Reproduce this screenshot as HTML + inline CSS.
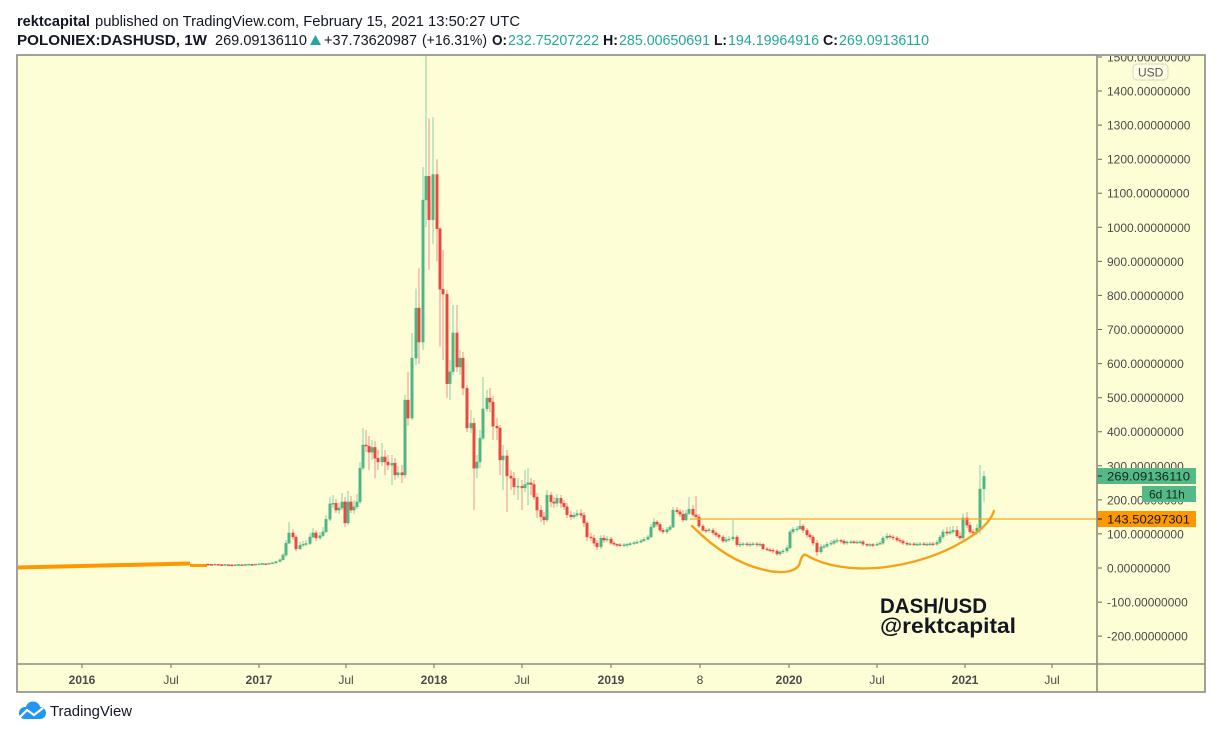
<!DOCTYPE html>
<html><head><meta charset="utf-8">
<style>
html,body{margin:0;padding:0;background:#fff;}
svg{display:block;font-family:"Liberation Sans","DejaVu Sans",sans-serif;}
</style></head>
<body>
<svg width="1220" height="740" viewBox="0 0 1220 740" xmlns="http://www.w3.org/2000/svg">
<defs>
<clipPath id="pc"><rect x="18" y="56" width="1078" height="607"/></clipPath>
<clipPath id="ac"><rect x="1098" y="56" width="106" height="607"/></clipPath>
</defs>
<rect width="1220" height="740" fill="#fff"/>

<!-- header -->
<text x="17" y="26" font-size="15" font-weight="bold" fill="#131722" textLength="73" lengthAdjust="spacingAndGlyphs">rektcapital</text>
<text x="95" y="26" font-size="15" fill="#131722" textLength="425" lengthAdjust="spacingAndGlyphs">published on TradingView.com, February 15, 2021 13:50:27 UTC</text>

<text x="17" y="45" font-size="15" font-weight="bold" fill="#131722" textLength="190" lengthAdjust="spacingAndGlyphs">POLONIEX:DASHUSD, 1W</text>
<text x="215" y="45" font-size="15" fill="#131722" textLength="92" lengthAdjust="spacingAndGlyphs">269.09136110</text>
<polygon points="310,45 321,45 315.5,35" fill="#26a69a"/>
<text x="324" y="45" font-size="15" fill="#131722" textLength="93" lengthAdjust="spacingAndGlyphs">+37.73620987</text>
<text x="422" y="45" font-size="15" fill="#131722" textLength="65" lengthAdjust="spacingAndGlyphs">(+16.31%)</text>
<text x="492" y="45" font-size="15" font-weight="bold" fill="#131722" textLength="15" lengthAdjust="spacingAndGlyphs">O:</text>
<text x="508" y="45" font-size="15" fill="#26a69a" textLength="91" lengthAdjust="spacingAndGlyphs">232.75207222</text>
<text x="603" y="45" font-size="15" font-weight="bold" fill="#131722" textLength="15" lengthAdjust="spacingAndGlyphs">H:</text>
<text x="619" y="45" font-size="15" fill="#26a69a" textLength="91" lengthAdjust="spacingAndGlyphs">285.00650691</text>
<text x="714" y="45" font-size="15" font-weight="bold" fill="#131722" textLength="13" lengthAdjust="spacingAndGlyphs">L:</text>
<text x="728" y="45" font-size="15" fill="#26a69a" textLength="91" lengthAdjust="spacingAndGlyphs">194.19964916</text>
<text x="823" y="45" font-size="15" font-weight="bold" fill="#131722" textLength="15" lengthAdjust="spacingAndGlyphs">C:</text>
<text x="839" y="45" font-size="15" fill="#26a69a" textLength="90" lengthAdjust="spacingAndGlyphs">269.09136110</text>

<!-- chart background -->
<rect x="17" y="55" width="1188" height="637" fill="#fefed6"/>

<g clip-path="url(#pc)">
<polyline points="17,567.5 190,563.5" fill="none" stroke="#ff9800" stroke-width="4"/>
<polyline points="190,565.5 207,565.5" fill="none" stroke="#ff9800" stroke-width="3"/>

<!-- wicks -->
<path fill="none" stroke="#8ccfae" stroke-width="1" d="M280 558.5V562.5M283 553V560.5M286 540V557M289 522V544M300 542V550M303 541V547M306 540V546M310 533V545M313 528V538M320 532V540M323 527V537M326 515V533M330 497V521M333 495V508M339 503V514M342 493V510M348 491V525M354 500V514M357 494V509M360 462V504M363 428V470M372 440V460M382 443V466M392 455V485M398 466V478M405 395V478M412 333V420M416 288.6V365M423 167V350M426 56V227.3M433 117.3V244.3M450 360V400M453 305V375M460 350V375M471 410V433M477 455V478M480 430V468M483 377V440M487 390V412M503 445V490M518 478V500M525 470V492M528 468V505M547 490V522M557 494V507M574 512V519M577 510V517M601 535V549M607 536V542M624 543V547M627 543V547M630 542V546M634 541V545M637 540V544M641 539V543M644 537V542M648 535V540M651 524V538M654 518V528M667 527V534M670 525V531M673 507V528M686 510V521M689 497V515M709 528V533M726 537V543M729 536V542M733 520V541M740 542V547M743 542V546M750 542V547M753 542V546M760 542V547M780 550V556M783 549V554M787 545V553M790 530V549M793 527V534M797 526V532M800 520V530M821 544V554M824 544V549M827 542V548M831 540V546M834 539V545M837 538V543M847 540V545M851 540V544M857 540V544M860 540V544M870 543V547M877 542V546M880 541V545M883 536V545M887 533V540M910 542V546M917 542V546M920 542V546M927 542V546M930 542V546M937 540V546M940 535V544M943 529V539M950 527V535M953 526V534M963 513.5V540M977 524V535M980 465.1V534M984 470.9V501.9"/>
<path fill="none" stroke="#ef9393" stroke-width="1" d="M293 529V540M296 535V551M316 530V541M336 499V513M345 497V527M351 496V513M366 430V452M369 436V470M375 441V478M378 450V470M385 450V475M388 455V470M395 458V480M402 465V483M408 372V426M419 268.2V363.6M429 118.3V269.9M437 159.2V261.4M440 227.3V346.5M443 250V360M447 290V397.7M457 305V372M463 352V395M467 385V432M474 418V510M490 388V412M493 396V440M497 418V440M500 425V475M507 450V512M511 470V490M514 472V495M522 480V510M531 478V495M534 480V500M537 493V518M541 505V522M544 512V525M551 492V507M554 497V508M561 495V508M564 500V510M567 503V518M571 511V520M581 509V518M584 512V527M587 521V541M591 533V541M594 535V546M597 540V550M604 535V543M611 537V545M614 541V546M617 543V547M620 543V547M657 520V527M660 522V532M663 528V534M677 507V514M680 509V517M683 510V522M693 505V517M696 496V518M699 514V528M703 524V532M706 528V533M713 528V535M716 531V537M719 533V539M723 535V543M737 535V547M747 542V547M757 542V547M763 543V550M767 547V551M770 548V552M773 548V553M777 549V556M803 524V533M807 528V538M810 533V540M813 535V546M817 540V556M841 539V543M844 539V545M854 540V544M863 540V546M867 543V547M873 543V547M890 534V539M893 535V540M897 536V542M900 538V543M903 539V545M907 541V546M914 542V546M924 542V546M933 542V546M947 527V536M957 526V538M960 532V540M967 512V528M970 522V534M973 529V535"/>

<!-- green bodies -->
<path fill="#4db684" stroke="#4db684" stroke-width="0.4" d="M213.5 564h2.6v1.2h-2.6zM223.7 564.3h2.6v1.2h-2.6zM233.9 564.6h2.6v1.2h-2.6zM237.3 564.4h2.6v1.2h-2.6zM244.1 564.3h2.6v1.2h-2.6zM247.5 564.1h2.6v1.2h-2.6zM254.3 564h2.6v1.2h-2.6zM257.7 563.7h2.6v1.2h-2.6zM261.1 563.4h2.6v1.2h-2.6zM267.9 563.1h2.6v1.2h-2.6zM271.3 562.6h2.6v1.2h-2.6zM274.7 561.5h2.6v1.6h-2.6z
M278.7 559.8h2.6V561.5h-2.6zM281.7 555.1h2.6V559.8h-2.6zM284.7 543.1h2.6V555.1h-2.6zM287.7 532.9h2.6V543.1h-2.6zM298.7 545.2h2.6V548.9h-2.6zM301.7 544.2h2.6V545.2h-2.6zM304.7 543.5h2.6V544.5h-2.6zM308.7 537h2.6V543.5h-2.6zM311.7 532.9h2.6V537h-2.6zM318.7 535.6h2.6V538h-2.6zM321.7 531.9h2.6V535.6h-2.6zM324.7 519.3h2.6V531.9h-2.6zM328.7 503.9h2.6V519.3h-2.6zM331.7 503.3h2.6V504.3h-2.6zM337.7 508h2.6V510.1h-2.6zM340.7 501.9h2.6V508h-2.6zM346.7 501.9h2.6V523h-2.6zM352.7 506.7h2.6V510.1h-2.6zM355.7 501.9h2.6V506.7h-2.6zM358.7 468.2h2.6V501.9h-2.6zM361.7 445h2.6V468.2h-2.6zM370.7 447.4h2.6V452.2h-2.6zM380.7 456.9h2.6V462h-2.6zM390.7 463.1h2.6V465.1h-2.6zM396.7 472.6h2.6V475h-2.6zM403.7 400h2.6V475h-2.6zM410.7 358.1h2.6V418.1h-2.6zM414.7 308h2.6V358.1h-2.6zM421.7 200h2.6V342.1h-2.6zM424.7 176.2h2.6V200h-2.6zM431.7 174.5h2.6V219.8h-2.6zM448.7 371.8h2.6V383.7h-2.6zM451.7 332.9h2.6V371.8h-2.6zM458.7 358.1h2.6V367h-2.6zM469.7 423.2h2.6V428h-2.6zM475.7 462h2.6V468.2h-2.6zM478.7 438.2h2.6V462h-2.6zM481.7 408.9h2.6V438.2h-2.6zM485.7 398h2.6V408.9h-2.6zM501.7 455.9h2.6V460h-2.6zM516.7 486.2h2.6V487.2h-2.6zM523.7 484.5h2.6V487.9h-2.6zM526.7 482.8h2.6V484.5h-2.6zM545.7 495.1h2.6V520h-2.6zM555.7 498.2h2.6V503.3h-2.6zM572.7 515.2h2.6V516.9h-2.6zM575.7 513.5h2.6V515.2h-2.6zM599.7 538h2.6V546.9h-2.6zM605.7 539h2.6V540.1h-2.6zM622.7 544.8h2.6V545.8h-2.6zM625.7 544.3h2.6V545.3h-2.6zM628.7 543.5h2.6V544.8h-2.6zM632.7 542.8h2.6V543.8h-2.6zM635.7 542.1h2.6V543.1h-2.6zM639.7 540.7h2.6V542.1h-2.6zM642.7 539.4h2.6V540.7h-2.6zM646.7 537h2.6V539.4h-2.6zM649.7 527.1h2.6V537h-2.6zM652.7 522h2.6V527.1h-2.6zM665.7 529.5h2.6V531.9h-2.6zM668.7 527.1h2.6V529.5h-2.6zM671.7 510.1h2.6V527.1h-2.6zM684.7 513.5h2.6V520h-2.6zM687.7 509.1h2.6V513.5h-2.6zM707.7 529.7h2.6V530.7h-2.6zM724.7 539.7h2.6V541.1h-2.6zM727.7 539h2.6V540h-2.6zM731.7 537h2.6V539h-2.6zM738.7 544.2h2.6V545.2h-2.6zM741.7 543.8h2.6V544.8h-2.6zM748.7 544.2h2.6V545.2h-2.6zM751.7 543.8h2.6V544.8h-2.6zM758.7 544.2h2.6V545.2h-2.6zM778.7 552h2.6V554h-2.6zM781.7 551h2.6V552h-2.6zM785.7 547.9h2.6V551h-2.6zM788.7 531.9h2.6V547.9h-2.6zM791.7 529.2h2.6V531.9h-2.6zM795.7 528.8h2.6V529.8h-2.6zM798.7 526.1h2.6V528.8h-2.6zM819.7 546.9h2.6V552h-2.6zM822.7 546.2h2.6V547.2h-2.6zM825.7 544.2h2.6V546.2h-2.6zM829.7 543.1h2.6V544.2h-2.6zM832.7 541.1h2.6V543.1h-2.6zM835.7 540.4h2.6V541.4h-2.6zM845.7 542.1h2.6V543.1h-2.6zM849.7 541.8h2.6V542.8h-2.6zM855.7 542.1h2.6V543.1h-2.6zM858.7 541.8h2.6V542.8h-2.6zM868.7 544.5h2.6V545.5h-2.6zM875.7 544.2h2.6V545.2h-2.6zM878.7 543.1h2.6V544.2h-2.6zM881.7 538h2.6V543.1h-2.6zM885.7 536h2.6V538h-2.6zM908.7 543.8h2.6V544.8h-2.6zM915.7 544.2h2.6V545.2h-2.6zM918.7 543.8h2.6V544.8h-2.6zM925.7 544.2h2.6V545.2h-2.6zM928.7 543.8h2.6V544.8h-2.6zM935.7 542.4h2.6V544.2h-2.6zM938.7 537h2.6V542.4h-2.6zM941.7 531.9h2.6V537h-2.6zM948.7 531.9h2.6V533.2h-2.6zM951.7 530.2h2.6V531.9h-2.6zM961.7 517.9h2.6V538h-2.6zM975.7 528.1h2.6V532.6h-2.6zM978.7 489h2.6V528.1h-2.6zM982.7 476.4h2.6V489h-2.6z"/>

<!-- red bodies -->
<path fill="#e8483f" stroke="#e8483f" stroke-width="0.4" d="M206.7 564h2.6v1.2h-2.6zM210.1 564.3h2.6v1.2h-2.6zM216.9 564.2h2.6v1.2h-2.6zM220.3 564.5h2.6v1.2h-2.6zM227.1 564.6h2.6v1.2h-2.6zM230.5 564.8h2.6v1.2h-2.6zM240.7 564.6h2.6v1.2h-2.6zM250.9 564.3h2.6v1.2h-2.6zM264.5 563.6h2.6v1.2h-2.6z
M291.7 532.9h2.6V537h-2.6zM294.7 537h2.6V548.9h-2.6zM314.7 532.9h2.6V538h-2.6zM334.7 503.3h2.6V510.1h-2.6zM343.7 501.9h2.6V523h-2.6zM349.7 501.9h2.6V510.1h-2.6zM364.7 445h2.6V446h-2.6zM367.7 446h2.6V452.2h-2.6zM373.7 447.4h2.6V458.3h-2.6zM376.7 458.3h2.6V462h-2.6zM383.7 456.9h2.6V462h-2.6zM386.7 462h2.6V465.1h-2.6zM393.7 463.1h2.6V475h-2.6zM400.7 472.6h2.6V475h-2.6zM406.7 400h2.6V418.1h-2.6zM417.7 308h2.6V342.1h-2.6zM427.7 176.2h2.6V219.8h-2.6zM435.7 174.5h2.6V228.7h-2.6zM438.7 228.7h2.6V289.3h-2.6zM441.7 289.3h2.6V294.1h-2.6zM445.7 294.1h2.6V383.7h-2.6zM455.7 332.9h2.6V367h-2.6zM461.7 358.1h2.6V388.1h-2.6zM465.7 388.1h2.6V428h-2.6zM472.7 423.2h2.6V468.2h-2.6zM488.7 398h2.6V402.1h-2.6zM491.7 402.1h2.6V426.3h-2.6zM495.7 426.3h2.6V428h-2.6zM498.7 428h2.6V460h-2.6zM505.7 455.9h2.6V476h-2.6zM509.7 476h2.6V478.1h-2.6zM512.7 478.1h2.6V486.9h-2.6zM520.7 486.2h2.6V487.9h-2.6zM529.7 482.8h2.6V484.5h-2.6zM532.7 484.5h2.6V497.1h-2.6zM535.7 497.1h2.6V510.1h-2.6zM539.7 510.1h2.6V516.9h-2.6zM542.7 516.9h2.6V520h-2.6zM549.7 495.1h2.6V501.9h-2.6zM552.7 501.9h2.6V503.3h-2.6zM559.7 498.2h2.6V503.3h-2.6zM562.7 503.3h2.6V506.7h-2.6zM565.7 506.7h2.6V514.9h-2.6zM569.7 514.9h2.6V516.9h-2.6zM579.7 513.5h2.6V515.2h-2.6zM582.7 515.2h2.6V523h-2.6zM585.7 523h2.6V537h-2.6zM589.7 537h2.6V538h-2.6zM592.7 538h2.6V543.1h-2.6zM595.7 543.1h2.6V546.9h-2.6zM602.7 538h2.6V540.1h-2.6zM609.7 539h2.6V543.1h-2.6zM612.7 543.1h2.6V544.2h-2.6zM615.7 544.2h2.6V545.2h-2.6zM618.7 544.8h2.6V545.8h-2.6zM655.7 522h2.6V524.4h-2.6zM658.7 524.4h2.6V530.2h-2.6zM661.7 530.2h2.6V531.9h-2.6zM675.7 510.1h2.6V511.8h-2.6zM678.7 511.8h2.6V514.2h-2.6zM681.7 514.2h2.6V520h-2.6zM691.7 509.1h2.6V514.9h-2.6zM694.7 514.9h2.6V516.9h-2.6zM697.7 516.9h2.6V526.1h-2.6zM701.7 526.1h2.6V530.2h-2.6zM704.7 530.2h2.6V531.2h-2.6zM711.7 530.2h2.6V532.9h-2.6zM714.7 532.9h2.6V535h-2.6zM717.7 535h2.6V537h-2.6zM721.7 537h2.6V541.1h-2.6zM735.7 537h2.6V544.8h-2.6zM745.7 543.8h2.6V544.8h-2.6zM755.7 543.8h2.6V544.8h-2.6zM761.7 544.2h2.6V548.9h-2.6zM765.7 548.9h2.6V549.9h-2.6zM768.7 549.9h2.6V550.9h-2.6zM771.7 550.3h2.6V551.3h-2.6zM775.7 551h2.6V554h-2.6zM801.7 526.1h2.6V530.2h-2.6zM805.7 530.2h2.6V535h-2.6zM808.7 535h2.6V537h-2.6zM811.7 537h2.6V543.1h-2.6zM815.7 543.1h2.6V552h-2.6zM839.7 540.4h2.6V541.4h-2.6zM842.7 541.1h2.6V543.1h-2.6zM852.7 541.8h2.6V542.8h-2.6zM861.7 541.8h2.6V544.2h-2.6zM865.7 544.2h2.6V545.2h-2.6zM871.7 544.5h2.6V545.5h-2.6zM888.7 536h2.6V537h-2.6zM891.7 537h2.6V538h-2.6zM895.7 538h2.6V540.1h-2.6zM898.7 540.1h2.6V541.1h-2.6zM901.7 541.1h2.6V543.1h-2.6zM905.7 543.1h2.6V544.2h-2.6zM912.7 543.8h2.6V544.8h-2.6zM922.7 543.8h2.6V544.8h-2.6zM931.7 543.8h2.6V544.8h-2.6zM945.7 531.9h2.6V533.2h-2.6zM955.7 530.2h2.6V536h-2.6zM958.7 536h2.6V538h-2.6zM965.7 517.9h2.6V525.1h-2.6zM968.7 525.1h2.6V531.9h-2.6zM971.7 531.9h2.6V532.9h-2.6z"/>

<line x1="690" y1="519" x2="1097" y2="519" stroke="#f5a623" stroke-width="1.3"/>
<path d="M692 526 C712 546 738 566 772 571.5 C788 573.5 797 570 799.5 564 C801 558 803 553.5 806 555 C814 559.5 828 567 858 568.3 C895 569.5 935 558 962 542 C978 533 990 523 994 511" fill="none" stroke="#f5a21b" stroke-width="2.4" stroke-linecap="round"/>
</g>

<text x="880" y="613" font-size="21" font-weight="bold" fill="#131722" textLength="107" lengthAdjust="spacingAndGlyphs">DASH/USD</text>
<text x="880" y="633" font-size="21" font-weight="bold" fill="#131722" textLength="136" lengthAdjust="spacingAndGlyphs">@rektcapital</text>

<!-- price axis -->
<g clip-path="url(#ac)">
<path fill="none" stroke="#666" stroke-width="1" d="M1097 57H1102M1097 91H1102M1097 125.1H1102M1097 159.2H1102M1097 193.2H1102M1097 227.3H1102M1097 261.4H1102M1097 295.4H1102M1097 329.5H1102M1097 363.6H1102M1097 397.7H1102M1097 431.7H1102M1097 465.8H1102M1097 499.9H1102M1097 533.9H1102M1097 568H1102M1097 602.1H1102M1097 636.1H1102"/>
<g font-size="12" fill="#4a4a4a">
<text x="1107" y="61.5">1500.00000000</text>
<text x="1107" y="95.5">1400.00000000</text>
<text x="1107" y="129.6">1300.00000000</text>
<text x="1107" y="163.7">1200.00000000</text>
<text x="1107" y="197.7">1100.00000000</text>
<text x="1107" y="231.8">1000.00000000</text>
<text x="1107" y="265.9">900.00000000</text>
<text x="1107" y="299.9">800.00000000</text>
<text x="1107" y="334">700.00000000</text>
<text x="1107" y="368.1">600.00000000</text>
<text x="1107" y="402.2">500.00000000</text>
<text x="1107" y="436.2">400.00000000</text>
<text x="1107" y="470.3">300.00000000</text>
<text x="1107" y="504.4">200.00000000</text>
<text x="1107" y="538.4">100.00000000</text>
<text x="1107" y="572.5">0.00000000</text>
<text x="1107" y="606.6">-100.00000000</text>
<text x="1107" y="640.6">-200.00000000</text>
</g>
</g>
<rect x="1133" y="64" width="35" height="16" rx="4" fill="#fefee2" stroke="#d5d5c8" stroke-width="1"/>
<text x="1138" y="76.5" font-size="12" fill="#555">USD</text>

<rect x="1097" y="468" width="99" height="16" fill="#53b987"/>
<line x1="1097" y1="476" x2="1102" y2="476" stroke="#1c2b25"/>
<text x="1107" y="480.5" font-size="12" fill="#142a20" textLength="83" lengthAdjust="spacingAndGlyphs">269.09136110</text>
<rect x="1142" y="486" width="54" height="16" fill="#53b987"/>
<text x="1149" y="498.5" font-size="12" fill="#142a20">6d 11h</text>
<rect x="1097" y="511" width="99" height="16" fill="#ff9800"/>
<line x1="1097" y1="519" x2="1102" y2="519" stroke="#131722"/>
<text x="1107" y="523.5" font-size="12" fill="#131722" textLength="83" lengthAdjust="spacingAndGlyphs">143.50297301</text>

<!-- time axis -->
<g font-size="12" fill="#4a4a4a" text-anchor="middle">
<text x="82" y="684" font-weight="bold">2016</text>
<text x="171" y="684">Jul</text>
<text x="259" y="684" font-weight="bold">2017</text>
<text x="346" y="684">Jul</text>
<text x="434" y="684" font-weight="bold">2018</text>
<text x="522" y="684">Jul</text>
<text x="611" y="684" font-weight="bold">2019</text>
<text x="700" y="684">8</text>
<text x="789" y="684" font-weight="bold">2020</text>
<text x="877" y="684">Jul</text>
<text x="965" y="684" font-weight="bold">2021</text>
<text x="1052" y="684">Jul</text>
</g>
<path stroke="#666" stroke-width="1" d="M82 664V668M171 664V668M259 664V668M346 664V668M434 664V668M522 664V668M611 664V668M700 664V668M789 664V668M877 664V668M965 664V668M1052 664V668"/>

<!-- frame lines -->
<rect x="17" y="55" width="1188" height="637" fill="none" stroke="#8a8a84" stroke-width="1.6"/>
<line x1="1097" y1="55" x2="1097" y2="692" stroke="#8a8a84" stroke-width="1.6"/>
<line x1="17" y1="664" x2="1205" y2="664" stroke="#8a8a84" stroke-width="1.6"/>

<!-- TradingView logo -->
<g transform="translate(17,701)">
<circle cx="8" cy="12" r="6" fill="#2196f3"/>
<circle cx="16" cy="8" r="7.5" fill="#2196f3"/>
<circle cx="23" cy="12" r="6" fill="#2196f3"/>
<rect x="8" y="11" width="15" height="7" fill="#2196f3"/>
<polyline points="3,16 10,9 17,14 26,7" fill="none" stroke="#fff" stroke-width="2.2" stroke-linejoin="round"/>
</g>
<text x="50" y="716" font-size="14.5" fill="#131722" textLength="82" lengthAdjust="spacingAndGlyphs">TradingView</text>
</svg>
</body></html>
